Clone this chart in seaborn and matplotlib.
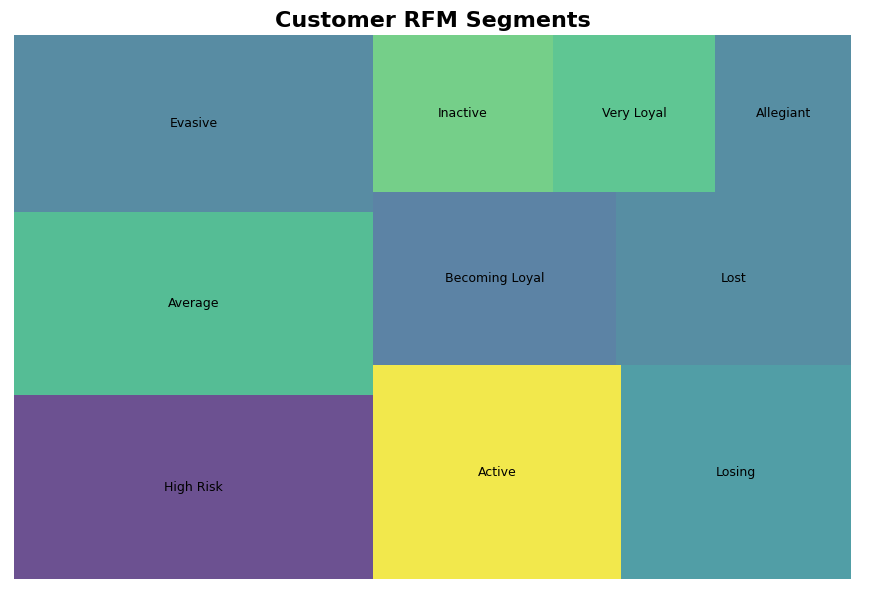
import matplotlib
matplotlib.use("Agg")
import matplotlib.pyplot as plt
import seaborn as sns

# data (customer counts per segment)
segments = ["High Risk", "Average", "Evasive", "Active", "Losing",
            "Becoming Loyal", "Lost", "Inactive", "Very Loyal", "Allegiant"]
counts = [1450, 1442, 1395, 1164, 1081, 922, 894, 621, 561, 468]

# colours as seen in the picture
seg_colors = ["#6c5191", "#55bd95", "#588ca3", "#f2e84c", "#519ea6",
              "#5c83a5", "#578ea3", "#75cf89", "#5fc693", "#578ea3"]


# squarified treemap layout, ..............................................
def layout_row(sizes, x, y, dx, dy):
    width = sum(sizes) / dy
    rects = []
    for s in sizes:
        rects.append((x, y, width, s / width))
        y += s / width
    return rects


def layout_col(sizes, x, y, dx, dy):
    height = sum(sizes) / dx
    rects = []
    for s in sizes:
        rects.append((x, y, s / height, height))
        x += s / height
    return rects


def layout(sizes, x, y, dx, dy):
    return layout_row(sizes, x, y, dx, dy) if dx >= dy else layout_col(sizes, x, y, dx, dy)


def leftover(sizes, x, y, dx, dy):
    if dx >= dy:
        w = sum(sizes) / dy
        return x + w, y, dx - w, dy
    h = sum(sizes) / dx
    return x, y + h, dx, dy - h


def worst_ratio(sizes, x, y, dx, dy):
    return max(max(r[2] / r[3], r[3] / r[2]) for r in layout(sizes, x, y, dx, dy))


def squarify(sizes, x, y, dx, dy):
    if len(sizes) == 0:
        return []
    if len(sizes) == 1:
        return layout(sizes, x, y, dx, dy)
    i = 1
    while i < len(sizes) and worst_ratio(sizes[:i], x, y, dx, dy) >= worst_ratio(sizes[:i + 1], x, y, dx, dy):
        i += 1
    cur, rest = sizes[:i], sizes[i:]
    lx, ly, ldx, ldy = leftover(cur, x, y, dx, dy)
    return layout(cur, x, y, dx, dy) + squarify(rest, lx, ly, ldx, ldy)


norm_x, norm_y = 100, 100
total = sum(counts)
normed = [c * norm_x * norm_y / total for c in counts]
rects = squarify(normed, 0, 0, norm_x, norm_y)

# Figure, .................................................................
sns.set_style("white")
fig = plt.figure(figsize=(8.82, 5.92), dpi=100, facecolor="white")
ax = fig.add_axes([14 / 882, 13 / 592, 837 / 882, 544 / 592])

ax.bar([r[0] for r in rects], [r[3] for r in rects],
       width=[r[2] for r in rects], bottom=[r[1] for r in rects],
       color=seg_colors, align="edge", linewidth=0)

for lab, r in zip(segments, rects):
    ax.text(r[0] + r[2] / 2, r[1] + r[3] / 2, lab,
            ha="center", va="center", fontsize=9, color="black")

ax.set_xlim(0, norm_x)
ax.set_ylim(0, norm_y)
ax.set_title("Customer RFM Segments", fontsize=16, fontweight="bold", color="black")
ax.axis("off")

fig.savefig("out.png", dpi=100, facecolor="white")
